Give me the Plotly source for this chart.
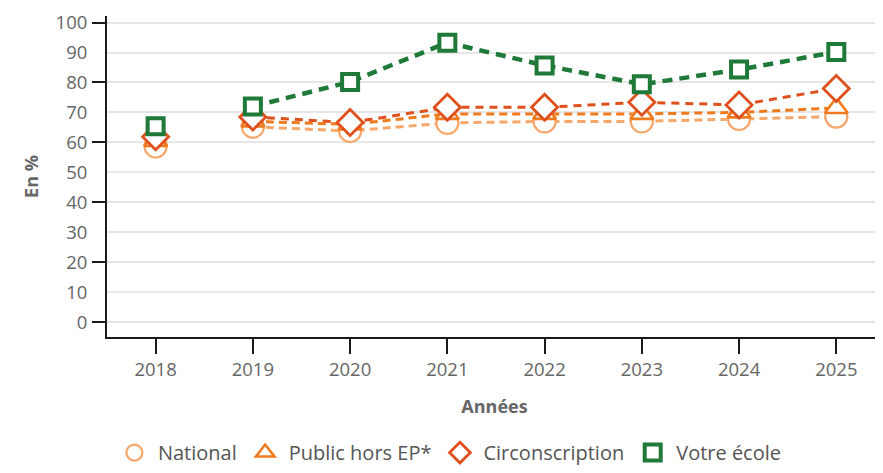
import plotly.graph_objects as go

years = [2018, 2019, 2020, 2021, 2022, 2023, 2024, 2025]
national = [58.6, 65.2, 63.8, 66.5, 67.0, 67.0, 67.8, 68.6]
public_hors_ep = [60.5, 67.0, 66.0, 69.5, 69.5, 69.5, 70.0, 71.5]
circonscription = [61.9, 68.5, 66.6, 71.7, 71.7, 73.4, 72.5, 78.0]
votre_ecole = [65.4, 72.0, 80.2, 93.3, 85.7, 79.4, 84.3, 90.2]

names = ["National", "Public hors EP*", "Circonscription", "Votre école"]
series = [national, public_hors_ep, circonscription, votre_ecole]
colors = ["#F7A76A", "#F07A1E", "#E0501C", "#1F7A3A"]
symbols = ["circle", "triangle-up", "diamond", "square"]
sizes = [22, 20, 20, 16]
mlw = [2.2, 2.6, 2.8, 4]
lw = [3, 3, 3, 4.5]
dashes = ["8px,5px", "8px,5px", "8px,6px", "10px,7px"]

fig = go.Figure()
for vals, col, w, d in zip(series, colors, lw, dashes):
    # dashed connecting line, from 2019 onward
    fig.add_trace(go.Scatter(
        x=years[1:], y=vals[1:], mode="lines",
        line=dict(color=col, width=w, dash=d),
        showlegend=False, hoverinfo="skip"))
for name, vals, col, sym, sz, mw in zip(names, series, colors, symbols, sizes, mlw):
    fig.add_trace(go.Scatter(
        x=years, y=vals, mode="markers", name=name,
        marker=dict(symbol=sym, size=sz, color="white",
                    line=dict(color=col, width=mw))))

# overlay axis carrying the major ticks every 20
fig.add_trace(go.Scatter(x=[None], y=[None], yaxis="y2", showlegend=False, hoverinfo="skip"))

font_fam = "'Open Sans', sans-serif"
grey = "#666666"
fig.update_layout(
    width=875, height=465,
    margin=dict(l=99, r=1, t=8, b=132),
    paper_bgcolor="white", plot_bgcolor="white",
    font=dict(family=font_fam, color=grey, size=16),
    xaxis=dict(
        range=[2017.5, 2025.47], tickmode="array", tickvals=years,
        ticktext=[str(y) for y in years],
        showgrid=False, zeroline=False, automargin=False,
        showline=True, linecolor="#1a1a1a", linewidth=2,
        ticks="outside", ticklen=15, tickwidth=2, tickcolor="#1a1a1a",
        tickfont=dict(size=18.5, color=grey),
        title=dict(text="<b>Années</b>", font=dict(size=18, color=grey), standoff=20),
    ),
    yaxis=dict(
        range=[-5, 102.2], tickmode="linear", tick0=0, dtick=10,
        showgrid=True, gridcolor="#e6e6e6", gridwidth=1.5, zeroline=False,
        automargin=False,
        showline=True, linecolor="#1a1a1a", linewidth=2,
        ticks="outside", ticklen=14, tickcolor="rgba(0,0,0,0)",
        tickfont=dict(size=18.5, color=grey),
        title=dict(text="<b>En %</b>", font=dict(size=18, color=grey), standoff=12),
    ),
    yaxis2=dict(
        range=[-5, 102.2], overlaying="y", side="left",
        tickmode="linear", tick0=0, dtick=20, automargin=False,
        showgrid=False, zeroline=False, showline=False,
        ticks="outside", ticklen=14, tickwidth=2, tickcolor="#1a1a1a",
        showticklabels=False,
    ),
    legend=dict(
        orientation="h", x=0.005, xanchor="left", y=-0.36, yanchor="middle",
        font=dict(size=20, color="#555555"), itemsizing="trace",
        tracegroupgap=0, itemwidth=37,
    ),
)

fig.write_html("out.html")
